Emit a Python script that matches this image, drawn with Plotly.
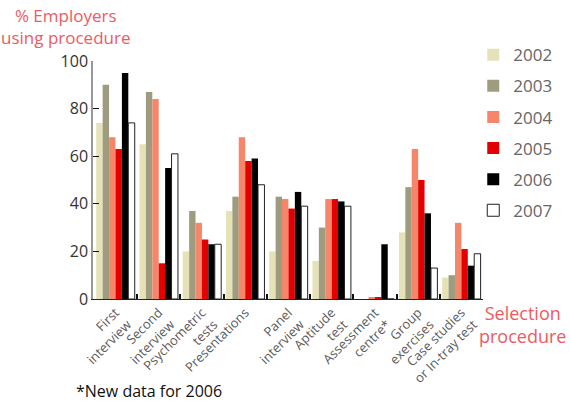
import plotly.graph_objects as go

categories = ["First<br>interview", "Second<br>interview", "Psychometric<br>tests",
              "Presentations", "Panel<br>interview", "Aptitude<br>test",
              "Assessment<br>centre*", "Group<br>exercises", "Case studies<br>or In-tray test"]
years = ["2002", "2003", "2004", "2005", "2006", "2007"]
v2002 = [74, 65, 20, 37, 20, 16, 0, 28, 9]
v2003 = [90, 87, 37, 43, 43, 30, 0, 47, 10]
v2004 = [68, 84, 32, 68, 42, 42, 0.6, 63, 32]
v2005 = [63, 15, 25, 58, 38, 42, 0.6, 50, 21]
v2006 = [95, 55, 23, 59, 45, 41, 23, 36, 14]
v2007 = [74, 61, 23, 48, 39, 39, 0, 13, 19]
series = [v2002, v2003, v2004, v2005, v2006, v2007]
colors = ["#e6e2b8", "#9f9b7f", "#f5866a", "#e30000", "#000000", "#ffffff"]
y_ticks = [0, 20, 40, 60, 80, 100]

FONT = "Open Sans"
xs = list(range(len(categories)))

fig = go.Figure()
for yr, vals, col in zip(years, series, colors):
    outline = 1 if yr == "2007" else 0
    fig.add_trace(go.Bar(
        x=xs, y=vals, name=yr, legendgroup=yr,
        marker=dict(color=col, line=dict(color="#222222", width=outline)),
    ))

# separator ticks between groups (overlay axis)
fig.add_trace(go.Scatter(x=[-0.5, len(categories) - 0.5], y=[0, 0], xaxis="x2",
                         mode="lines", line=dict(width=0), showlegend=False,
                         hoverinfo="skip"))

fig.update_layout(
    width=570, height=403,
    margin=dict(l=93, r=80, t=61, b=104),
    paper_bgcolor="white", plot_bgcolor="white",
    barmode="group", bargap=0.11, bargroupgap=0,
    font=dict(family=FONT, color="#555555"),
    showlegend=True,
    legend=dict(x=0.975, xanchor="left", y=1.1, yanchor="top",
                font=dict(size=17, color="#666666"), tracegroupgap=6,
                itemwidth=30, bgcolor="rgba(0,0,0,0)"),
    xaxis=dict(range=[-0.52, 8.5], tickmode="array", tickvals=xs, ticktext=categories,
               tickangle=-45, tickfont=dict(size=13, color="#5a5a5a"),
               showgrid=False, zeroline=False, showline=True, linecolor="#222222",
               linewidth=1, ticks=""),
    xaxis2=dict(range=[-0.52, 8.5], overlaying="x", anchor="y",
                side="bottom", tickmode="array",
                tickvals=[i + 0.5 for i in xs], showticklabels=False,
                ticks="inside", ticklen=5, tickcolor="#111111", tickwidth=1.5,
                showgrid=False, zeroline=False, showline=False),
    yaxis=dict(range=[0, 100], tickmode="array", tickvals=y_ticks,
               tickfont=dict(size=16, color="#333333"),
               ticks="inside", ticklen=6, tickcolor="#111111",
               showgrid=False, zeroline=False, showline=True, linecolor="#999999",
               linewidth=1.5),
)

fig.add_annotation(text="% Employers<br>using procedure", xref="paper", yref="paper",
                   x=-0.07, y=1.04, xanchor="center", yanchor="bottom",
                   showarrow=False, align="center",
                   font=dict(size=17, color="#ee5a5f", family=FONT))
fig.add_annotation(text="Selection<br>procedure", xref="paper", yref="paper",
                   x=1.1, y=-0.0, xanchor="center", yanchor="top",
                   showarrow=False, align="center",
                   font=dict(size=18, color="#ee5a5f", family=FONT))
fig.add_annotation(text="*New data for 2006", xref="paper", yref="paper",
                   x=-0.05, y=-0.33, xanchor="left", yanchor="top",
                   showarrow=False, font=dict(size=16, color="#111111", family=FONT))

fig.write_html("out.html")
